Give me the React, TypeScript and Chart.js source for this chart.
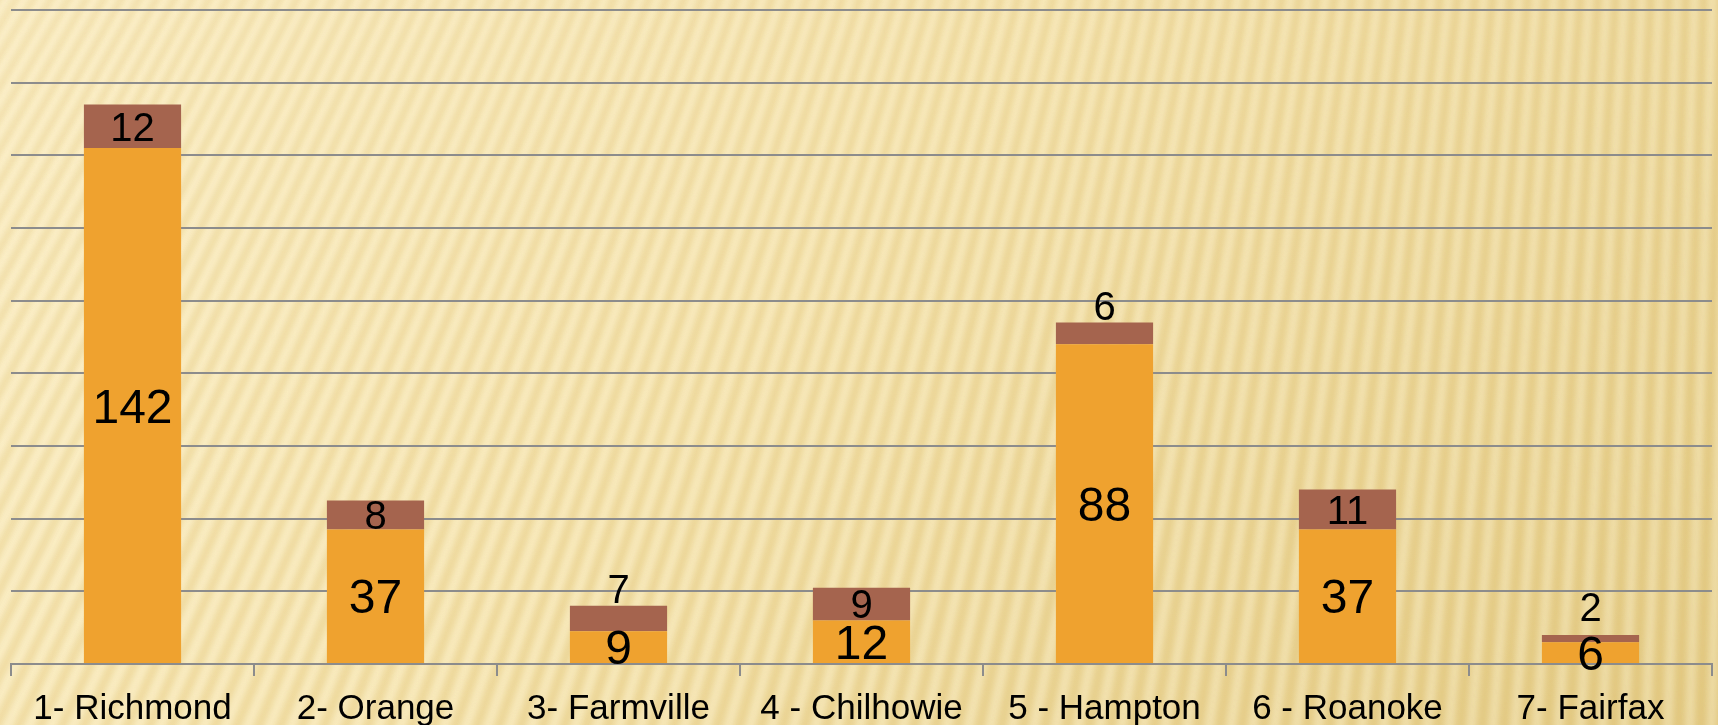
import React, { useEffect, useRef } from "react";
import { Chart, registerables } from "chart.js";

Chart.register(...registerables);

const categories = ["1- Richmond", "2- Orange", "3- Farmville", "4 - Chilhowie", "5 - Hampton", "6 - Roanoke", "7- Fairfax"];
const baseValues = [142, 37, 9, 12, 88, 37, 6];
const topValues = [12, 8, 7, 9, 6, 11, 2];
const yMax = 180;
const yStep = 20;

const W = 1718;
const H = 742;

const backgroundPlugin = {
  id: "bgStripes",
  beforeDraw(chart: any) {
    const ctx = chart.ctx;
    const w = chart.width;
    const h = chart.height;
    ctx.save();
    const g = ctx.createLinearGradient(0, 0, w * 0.75, h * 1.6);
    g.addColorStop(0, "#fdf1c9");
    g.addColorStop(0.45, "#f6e5b0");
    g.addColorStop(1, "#e6cf8c");
    ctx.fillStyle = g;
    ctx.fillRect(0, 0, w, h);
    const fx = 1800;
    const fy = -3000;
    ctx.filter = "blur(3px)";
    for (let x0 = -500; x0 < w + 200; x0 += 22) {
      const x1 = x0 + (fx - x0) * ((h + 20) / (h - fy));
      ctx.beginPath();
      ctx.moveTo(x0, h + 10);
      ctx.lineTo(x1, -10);
      ctx.lineWidth = 9;
      ctx.strokeStyle = "rgba(205,165,70,0.2)";
      ctx.stroke();
      ctx.beginPath();
      ctx.moveTo(x0 + 11, h + 10);
      ctx.lineTo(x1 + 11, -10);
      ctx.lineWidth = 8;
      ctx.strokeStyle = "rgba(255,250,225,0.3)";
      ctx.stroke();
    }
    ctx.filter = "none";
    ctx.restore();
  },
};

const labelPlugin = {
  id: "segLabels",
  afterDatasetsDraw(chart: any) {
    const ctx = chart.ctx;
    ctx.save();
    ctx.fillStyle = "#000";
    ctx.textAlign = "center";
    ctx.textBaseline = "alphabetic";
    const m0 = chart.getDatasetMeta(0);
    const m1 = chart.getDatasetMeta(1);
    const lowerCenters: number[] = [];
    m0.data.forEach((bar: any, i: number) => {
      const size = 48;
      const cy = (bar.y + bar.base) / 2;
      lowerCenters[i] = cy;
      ctx.font = `${size}px 'Liberation Sans', Arial, sans-serif`;
      ctx.fillText(String(baseValues[i]), bar.x, cy + 0.358 * size);
    });
    m1.data.forEach((bar: any, i: number) => {
      const size = 40;
      const hgt = bar.base - bar.y;
      let cy = (bar.y + bar.base) / 2;
      if (hgt < 28) {
        cy = Math.min(bar.y - 17, lowerCenters[i] - 46);
      }
      ctx.font = `${size}px 'Liberation Sans', Arial, sans-serif`;
      ctx.fillText(String(topValues[i]), bar.x, cy + 0.358 * size);
    });
    ctx.restore();
  },
};

export default function App() {
  const ref = useRef<HTMLCanvasElement | null>(null);
  useEffect(() => {
    document.documentElement.style.overflow = "hidden";
    document.body.style.overflow = "hidden";
    const canvas = ref.current;
    if (!canvas) return;
    const chart = new Chart(canvas, {
      type: "bar",
      data: {
        labels: categories,
        datasets: [
          {
            label: "base",
            data: baseValues,
            backgroundColor: "#efa22f",
            borderWidth: 0,
            categoryPercentage: 1,
            barPercentage: 0.4,
          },
          {
            label: "top",
            data: topValues,
            backgroundColor: "#a5644e",
            borderWidth: 0,
            categoryPercentage: 1,
            barPercentage: 0.4,
          },
        ],
      },
      options: {
        animation: false,
        responsive: false,
        maintainAspectRatio: false,
        devicePixelRatio: 1,
        layout: { padding: { left: 11, right: 6, top: 10, bottom: 0 } },
        plugins: {
          legend: { display: false },
          tooltip: { enabled: false },
        },
        scales: {
          x: {
            stacked: true,
            grid: {
              display: true,
              drawOnChartArea: false,
              drawTicks: true,
              tickLength: 12,
              color: "#8c8c8c",
              lineWidth: 2,
            },
            border: { display: true, color: "#8c8c8c", width: 2 },
            ticks: {
              color: "#000",
              padding: 12,
              maxRotation: 0,
              autoSkip: false,
              font: {
                family: "'Liberation Sans', Arial, sans-serif",
                size: 35,
              },
            },
          },
          y: {
            stacked: true,
            min: 0,
            max: yMax,
            ticks: { display: false, stepSize: yStep },
            grid: { color: "#8c8c8c", lineWidth: 2, drawTicks: false },
            border: { display: false },
          },
        },
      },
      plugins: [backgroundPlugin, labelPlugin],
    });
    return () => chart.destroy();
  }, []);
  return (
    <div style={{ position: "fixed", left: 0, top: 0, width: W, height: H }}>
      <canvas ref={ref} width={W} height={H} style={{ width: W, height: H, display: "block" }} />
    </div>
  );
}
